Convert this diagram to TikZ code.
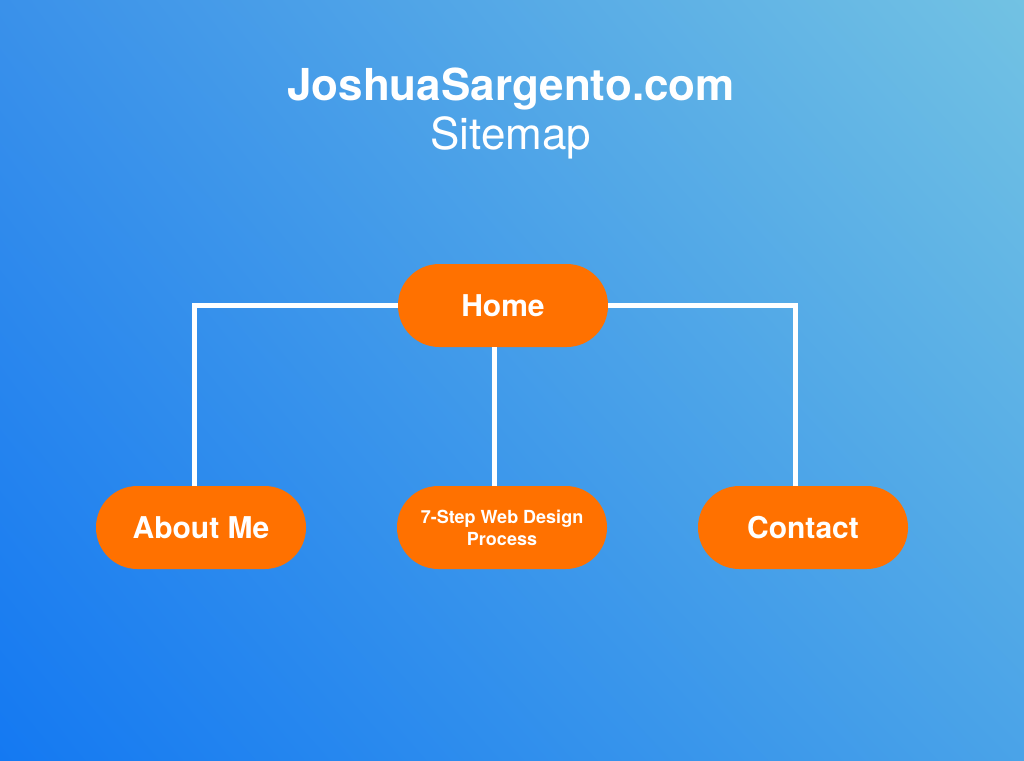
\documentclass[tikz,border=0pt]{standalone}
\usepackage{fontspec}
\setmainfont{TeX Gyre Heros}
\usetikzlibrary{shadings}
\definecolor{bgtl}{HTML}{3A91EA}
\definecolor{bgtr}{HTML}{72C2E3}
\definecolor{bgbl}{HTML}{1479F2}
\definecolor{bgbr}{HTML}{4AA3E8}
\definecolor{pillorange}{HTML}{FF7100}
\begin{document}
\begin{tikzpicture}[x=0.75pt,y=-0.75pt,
    page/.style={white,font=\fontsize{33}{38}\selectfont},
    pill/.style={fill=pillorange,text=white,rounded corners=31pt,minimum width=157.5pt,minimum height=62.25pt,inner sep=0pt,align=center,font=\bfseries\fontsize{22.5}{26}\selectfont},
    link/.style={white,line width=3.75pt}]
    % background
    \shade[upper left=bgtl,upper right=bgtr,lower left=bgbl,lower right=bgbr] (0,0) rectangle (1024,760);
    \node[page,anchor=base,font=\bfseries\fontsize{33}{38}\selectfont] (title) at (511,100) {JoshuaSargento.com};
    \node[page,anchor=base] (subtitle) at (511,149) {Sitemap};
    % pages
    \node[pill] (home) at (503,305.5) {Home};
    \node[pill] (about) at (201,527.5) {About Me};
    \node[pill,font=\bfseries\fontsize{13.5}{16.5}\selectfont] (design) at (502,527.5) {7-Step Web Design\\Process};
    \node[pill] (contact) at (803,527.5) {Contact};
    % links
    \draw[link] (home.west) -| ([xshift=-5.25pt]about.north);
    \draw[link] ([xshift=-6.75pt]home.south) -- ([xshift=-6.75pt]home.south |- design.north);
    \draw[link] (home.east) -| ([xshift=-6pt]contact.north);
\end{tikzpicture}
\end{document}
